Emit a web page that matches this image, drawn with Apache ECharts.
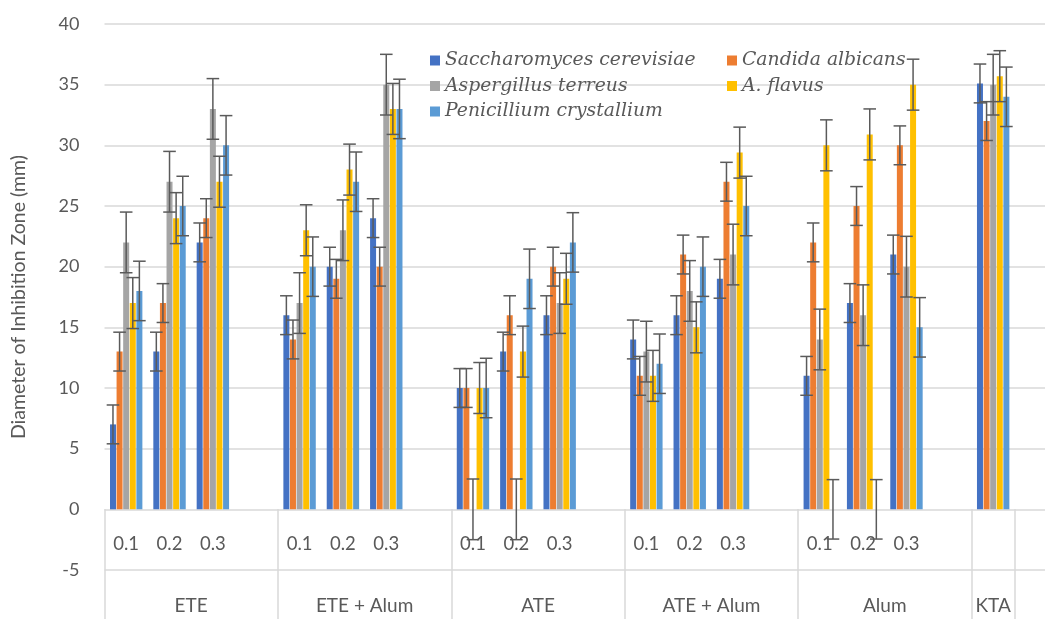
<!DOCTYPE html>
<html><head><meta charset="utf-8">
<script src="https://cdn.jsdelivr.net/npm/echarts@6/dist/echarts.min.js"></script>
<style>html,body{margin:0;padding:0;background:#fff}#c{width:1045px;height:619px}</style>
</head><body><div id="c"></div>
<script>
// ---- data ----
const innerLabels = ['0.1','0.2','0.3','', '0.1','0.2','0.3','', '0.1','0.2','0.3','', '0.1','0.2','0.3','', '0.1','0.2','0.3','', '', ''];
const groupLabels = ['ETE','ETE + Alum','ATE','ATE + Alum','Alum','KTA'];
const seriesNames = ['Saccharomyces cerevisiae','Candida albicans','Aspergillus terreus','A. flavus','Penicillium crystallium'];
const sCerevisiae = [7,13,22,null, 16,20,24,null, 10,13,16,null, 14,16,19,null, 11,17,21,null, 35.1,null];
const cAlbicans   = [13,17,24,null, 14,19,20,null, 10,16,20,null, 11,21,27,null, 22,25,30,null, 32,null];
const aTerreus    = [22,27,33,null, 17,23,35,null, 0,0,17,null, 13,18,21,null, 14,16,20,null, 35,null];
const aFlavus     = [17,24,27,null, 23,28,33,null, 10,13,19,null, 11,15,29.4,null, 30,30.9,35,null, 35.7,null];
const pCrystallium= [18,25,30,null, 20,27,33,null, 10,19,22,null, 12,20,25,null, 0,0,15,null, 34,null];
const errorSizes  = [1.6, 1.6, 2.5, 2.1, 2.45];
const yTicks = {min: -5, max: 40, interval: 5};

// ---- build ----
const allValues = [sCerevisiae, cAlbicans, aTerreus, aFlavus, pCrystallium];
const colors = ['#4472C4','#ED7D31','#A5A5A5','#FFC000','#5B9BD5'];
const BAR_W = 6, GAP = 0.1;
const nSlots = innerLabels.length;
// group label axis: half-slot points
const groupAxis = new Array(nSlots * 2 + 1).fill('');
groupLabels.forEach((g, i) => {
  const idx = i < 5 ? i * 8 + 4 : 41;
  groupAxis[idx] = g;
});
const sepIdx = [0,4,8,12,16,20,21];
const sepHalfIdx = sepIdx.map(v => v * 2);
const errData = [];
allValues.forEach((arr, s) => arr.forEach((v, i) => { if (v !== null) errData.push([i, v, errorSizes[s], s]); }));

const font = 'Lato';
const chart = echarts.init(document.getElementById('c'), null, {renderer: 'canvas'});
const series = allValues.map((arr, s) => ({
  name: seriesNames[s], type: 'bar', data: arr, barWidth: BAR_W, barGap: (GAP*100)+'%',
  itemStyle: {color: colors[s]}, xAxisIndex: 0, yAxisIndex: 0
}));
series.push({
  type: 'custom', name: 'err', xAxisIndex: 0, yAxisIndex: 0, data: errData,
  encode: {x: 0, y: 1}, z: 10, silent: true,
  renderItem: function (params, api) {
    const i = api.value(0), v = api.value(1), e = api.value(2), s = api.value(3);
    const off = (s - 2) * BAR_W * (1 + GAP);
    const hi = api.coord([i, v + e]);
    const lo = api.coord([i, v - e]);
    const x = hi[0] + off, cw = 6.3;
    const st = {stroke: '#5a5a5a', lineWidth: 1.5};
    return {type: 'group', children: [
      {type: 'line', shape: {x1: x, y1: hi[1], x2: x, y2: lo[1]}, style: st},
      {type: 'line', shape: {x1: x - cw, y1: hi[1], x2: x + cw, y2: hi[1]}, style: st},
      {type: 'line', shape: {x1: x - cw, y1: lo[1], x2: x + cw, y2: lo[1]}, style: st}
    ]};
  }
});
const legendText = {fontFamily: 'DejaVu Serif', fontStyle: 'italic', fontSize: 18.8, color: '#595959'};
chart.setOption({
  animation: false,
  backgroundColor: '#fff',
  grid: {left: 104.5, top: 24, bottom: 49, width: 43.35 * nSlots, containLabel: false, outerBoundsMode: 'none'},
  legend: [
    {data: [seriesNames[0], seriesNames[2], seriesNames[4]], orient: 'vertical', left: 430, top: 51, icon: 'rect',
     itemWidth: 10, itemHeight: 10, itemGap: 6.5, textStyle: legendText, padding: 0},
    {data: [seriesNames[1], seriesNames[3]], orient: 'vertical', left: 727, top: 51, icon: 'rect',
     itemWidth: 10, itemHeight: 10, itemGap: 6.5, textStyle: legendText, padding: 0}
  ],
  xAxis: [
    {type: 'category', data: innerLabels, position: 'bottom',
     axisLine: {show: false, onZero: false},
     axisTick: {show: true, inside: true, length: 61, interval: (idx) => sepIdx.indexOf(idx) >= 0, lineStyle: {color: '#d9d9d9', width: 1.5}},
     axisLabel: {interval: 0, inside: true, margin: 16, fontSize: 18.5, color: '#595959', fontFamily: font},
     splitLine: {show: false}},
    {type: 'category', data: groupAxis, boundaryGap: false, position: 'bottom',
     axisLine: {show: false, onZero: false},
     axisTick: {show: true, length: 50, interval: (idx) => sepHalfIdx.indexOf(idx) >= 0, lineStyle: {color: '#d9d9d9', width: 1.5}},
     axisLabel: {interval: 0, margin: 26, fontSize: 19, color: '#595959', fontFamily: font},
     splitLine: {show: false}}
  ],
  yAxis: {type: 'value', min: yTicks.min, max: yTicks.max, interval: yTicks.interval,
    name: 'Diameter of Inhibition Zone (mm)', nameLocation: 'middle', nameGap: 76,
    nameTextStyle: {fontSize: 19.5, color: '#595959', fontFamily: font},
    axisLine: {show: false}, axisTick: {show: false},
    axisLabel: {fontSize: 18, color: '#595959', margin: 25, fontFamily: font},
    splitLine: {lineStyle: {color: '#d9d9d9', width: 1.5}}},
  series: series
});
</script></body></html>
